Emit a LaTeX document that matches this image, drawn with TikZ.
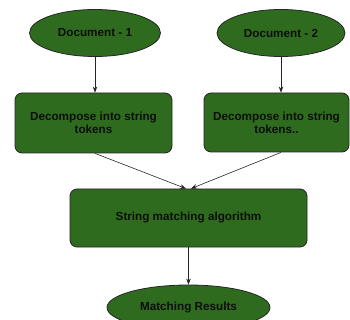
\documentclass[tikz,border=0pt]{standalone}
\usepackage{fontspec}
\setmainfont{Liberation Sans}
\usetikzlibrary{arrows.meta,shapes.geometric}
\definecolor{leaf}{RGB}{47,107,31}

\begin{document}
\begin{tikzpicture}[x=1pt,y=-1pt,
  box/.style={draw=black!85,fill=leaf,rounded corners=7pt,line width=0.8pt,align=center,
    font=\bfseries\fontsize{11.7}{13}\selectfont,text=black!95,inner sep=0pt},
  oval/.style={ellipse,draw=black!85,fill=leaf,line width=0.8pt,
    font=\bfseries\fontsize{11.7}{13}\selectfont,text=black!95,inner sep=0pt},
  link/.style={-{Stealth[length=6pt,width=4.5pt]},line width=0.6pt,draw=black!85}]
\useasboundingbox (0,0) rectangle (350,320);
\node[oval,minimum width=131pt,minimum height=47pt] (doc1) at (95,33) {Document - 1};
\node[oval,minimum width=128pt,minimum height=47pt] (doc2) at (281,33) {Document - 2};
\node[box,minimum width=157pt,minimum height=60pt] (dec1) at (93.5,123) {Decompose into string\\tokens};
\node[box,minimum width=145pt,minimum height=59pt] (dec2) at (276.5,122.5) {Decompose into string\\tokens..};
\node[box,minimum width=237pt,minimum height=58pt] (match) at (188.5,218) {String matching algorithm};
\node[oval,minimum width=163pt,minimum height=45pt] (res) at (188.5,307.5) {Matching Results};
% arrows
\draw[link] (doc1.south) -- (doc1.south |- dec1.north);
\draw[link] (doc2.south) -- (doc2.south |- dec2.north);
\draw[link] (doc1.south |- dec1.south) -- ([xshift=-2.5pt]match.north);
\draw[link] (doc2.south |- dec2.south) -- ([xshift=2.5pt]match.north);
\draw[link] (match.south) -- (res.north);
\end{tikzpicture}
\end{document}
